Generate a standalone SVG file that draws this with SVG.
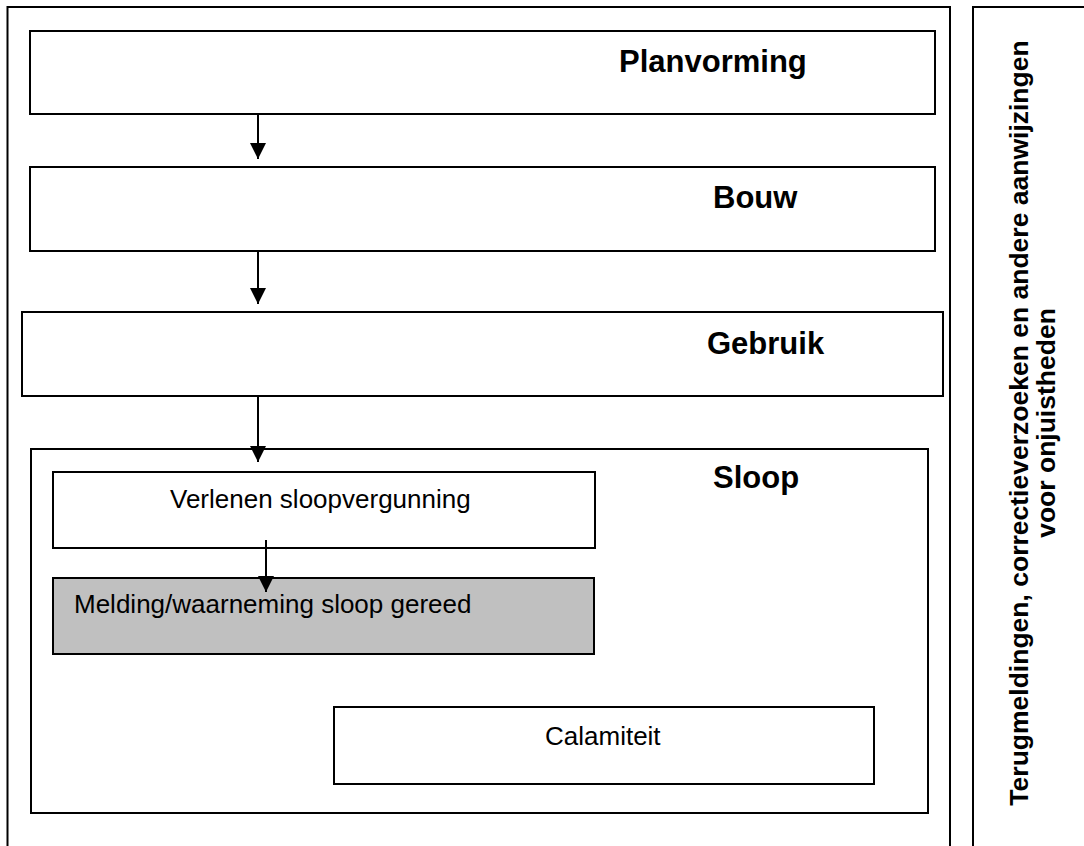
<svg xmlns="http://www.w3.org/2000/svg" width="1084" height="846" viewBox="0 0 1084 846">
  <style>
    .box { fill: #ffffff; stroke: #000000; stroke-width: 2; }
    .grey { fill: #c0c0c0; stroke: #000000; stroke-width: 2; }
    .frame { fill: none; stroke: #000000; stroke-width: 2; }
    .head { font-family: "Liberation Sans", Arial, sans-serif; font-weight: bold; font-size: 31px; fill: #000; }
    .lbl { font-family: "Liberation Sans", Arial, sans-serif; font-size: 26px; fill: #000; }
    .side { font-family: "Liberation Sans", Arial, sans-serif; font-weight: bold; font-size: 26.5px; fill: #000; text-anchor: middle; }
    .conn { stroke: #000; stroke-width: 2; fill: none; }
  </style>
  <defs>
    <marker id="arrow" markerUnits="userSpaceOnUse" markerWidth="16" markerHeight="16" refX="16" refY="8" orient="auto">
      <path d="M0,0 L16,8 L0,16 z" fill="#000"/>
    </marker>
  </defs>
  <rect width="1084" height="846" fill="#ffffff"/>
  <g id="outer-frame">
    <rect class="frame" x="7.5" y="7" width="942.5" height="860"/>
  </g>
  <g id="side-panel">
    <rect class="frame" x="973" y="7" width="130" height="860"/>
    <text class="side" transform="translate(1028,423) rotate(-90)" x="0" y="0">Terugmeldingen, correctieverzoeken en andere aanwijzingen</text>
    <text class="side" transform="translate(1055,423) rotate(-90)" x="0" y="0">voor onjuistheden</text>
  </g>
  <g id="planvorming">
    <rect class="box" x="30" y="31" width="905" height="83"/>
    <text class="head" x="619" y="72">Planvorming</text>
  </g>
  <g id="bouw">
    <rect class="box" x="30" y="167" width="905" height="84"/>
    <text class="head" x="713" y="208">Bouw</text>
  </g>
  <g id="gebruik">
    <rect class="box" x="22" y="312" width="921" height="84"/>
    <text class="head" x="707" y="354">Gebruik</text>
  </g>
  <g id="sloop">
    <rect class="box" x="31" y="449" width="897" height="364"/>
    <text class="head" x="713" y="488">Sloop</text>
  </g>
  <g id="verlenen">
    <rect class="box" x="53" y="472" width="542" height="76"/>
    <text class="lbl" x="170" y="508">Verlenen sloopvergunning</text>
  </g>
  <g id="melding">
    <rect class="grey" x="53" y="578" width="541" height="76"/>
    <text class="lbl" x="74" y="613">Melding/waarneming sloop gereed</text>
  </g>
  <g id="calamiteit">
    <rect class="box" x="334" y="707" width="540" height="77"/>
    <text class="lbl" x="545" y="745">Calamiteit</text>
  </g>
  <g id="connectors">
    <line class="conn" x1="258" y1="114" x2="258" y2="159" marker-end="url(#arrow)"/>
    <line class="conn" x1="258" y1="251" x2="258" y2="304" marker-end="url(#arrow)"/>
    <line class="conn" x1="258" y1="396" x2="258" y2="462" marker-end="url(#arrow)"/>
    <line class="conn" x1="266" y1="540" x2="266" y2="592" marker-end="url(#arrow)"/>
  </g>
</svg>
